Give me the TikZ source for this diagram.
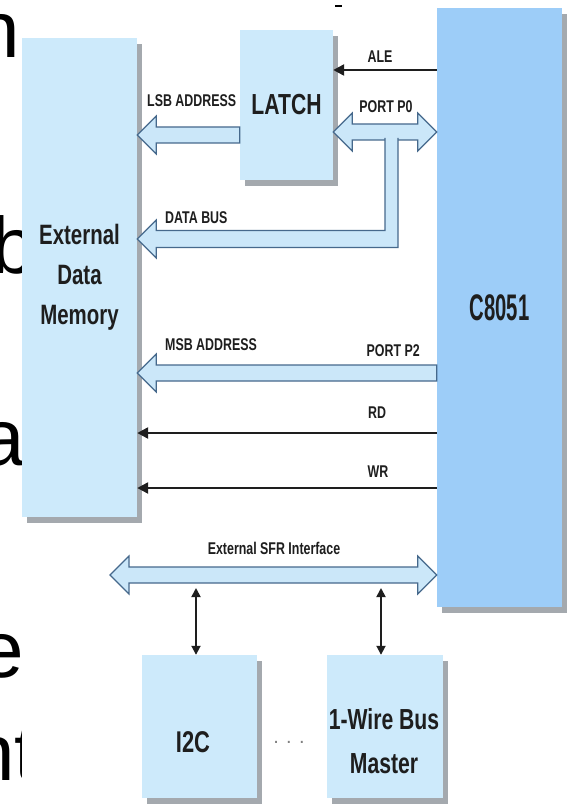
\documentclass[tikz,border=0pt]{standalone}
\usepackage{fontspec}
\usepackage{graphicx}
\setmainfont{Liberation Sans}
\newfontfamily\condfont{Liberation Sans}[FakeStretch=0.73]
\usetikzlibrary{arrows.meta,shadows,calc}

\definecolor{boxblue}{RGB}{205,234,251}
\definecolor{cpublue}{RGB}{157,205,248}
\definecolor{busfill}{RGB}{203,231,249}
\definecolor{busline}{RGB}{70,105,140}
\definecolor{shade}{RGB}{164,169,174}
\definecolor{ink}{RGB}{30,30,30}

\tikzset{
  block/.style={fill=boxblue, inner sep=0, text=ink, align=center,
    drop shadow={shadow xshift=5pt, shadow yshift=-6pt, fill=shade, opacity=1}},
  bus/.style={fill=busfill, draw=busline, line width=1.2pt},
  sig/.style={draw=ink, line width=2.4pt, -{Triangle[length=11pt,width=11pt]}},
  sigboth/.style={draw=ink, line width=1.8pt,
    {Triangle[length=9pt,width=9pt]}-{Triangle[length=9pt,width=9pt]}},
  lbl/.style={font=\condfont\bfseries\fontsize{17}{17}\selectfont, text=ink, inner sep=0},
  slide/.style={font=\fontsize{80}{80}\selectfont, inner sep=0, anchor=base west},
}

% hollow bus arrow, tail #1, tip #2 (pointing left)
\newcommand\busto[2]{%
  \draw[bus] let \p1=(#1), \p2=(#2) in
    (\x1,\y1+8pt) -- (\x2+19pt,\y1+8pt) -- (\x2+19pt,\y1+19pt) -- (\x2,\y1)
    -- (\x2+19pt,\y1-19pt) -- (\x2+19pt,\y1-8pt) -- (\x1,\y1-8pt) -- cycle;}
% hollow bus arrow with a tip at both ends, #1 left, #2 right
\newcommand\busboth[2]{%
  \draw[bus] let \p1=(#1), \p2=(#2) in
    (\x1,\y1) -- (\x1+19pt,\y1+19pt) -- (\x1+19pt,\y1+8pt) -- (\x2-19pt,\y1+8pt)
    -- (\x2-19pt,\y1+19pt) -- (\x2,\y1) -- (\x2-19pt,\y1-19pt) -- (\x2-19pt,\y1-8pt)
    -- (\x1+19pt,\y1-8pt) -- (\x1+19pt,\y1-19pt) -- cycle;}

\begin{document}
\begin{tikzpicture}[x=1pt,y=-1pt]
\useasboundingbox (0,0) rectangle (570,805);
\fill[white] (0,0) rectangle (570,805);

% slide text behind the figure
\node[slide] (w1) at (-25,58) {ne};
\node[slide] (w2) at (-9,273) {b};
\node[slide] (w3) at (-20,465) {a};
\node[slide] (w4) at (-21,677) {e};
\node[slide] (w5) at (-30,780) {nt};
\fill[white] (22,7) rectangle (570,805);
\fill[black] (335,5) rectangle (342,7.5);

% blocks
\node[block, minimum width=115pt, minimum height=479pt,
  font=\condfont\bfseries\fontsize{28}{40}\selectfont] (mem) at (79.5,277.5) {External\\Data\\Memory};
\node[block, minimum width=93pt, minimum height=150pt,
  font=\condfont\bfseries\fontsize{29}{29}\selectfont] (latch) at (286.5,105) {LATCH};
\node[block, fill=cpublue, minimum width=125pt, minimum height=599pt,
  font=\condfont\bfseries\fontsize{37}{37}\selectfont] (cpu) at (499.5,307.5) {\scalebox{0.75}[1]{C8051}};
\node[block, minimum width=115pt, minimum height=143pt] (i2c) at (199.5,726.5) {};
\node[block, minimum width=116pt, minimum height=143pt] (wire) at (385,726.5) {};
\node[font=\condfont\bfseries\fontsize{30}{30}\selectfont, text=ink] (i2ctext) at (193,742) {I2C};
\node[font=\condfont\bfseries\fontsize{29}{44}\selectfont, text=ink, align=center] (wiretext) at (384,741) {1-Wire Bus\\Master};
\node[font=\fontsize{20}{20}\selectfont, text=gray] (dots) at (289,742) {. . .};

% levels of the lines
\coordinate (ale) at (0,70);
\coordinate (lsb) at (0,135);
\coordinate (p0) at (0,132);
\coordinate (p0tap) at (391.5,138);
\coordinate (dbus) at (0,239);
\coordinate (msb) at (0,373);
\coordinate (rd) at (0,433);
\coordinate (wr) at (0,488);
\coordinate (sfr) at (110,575);
\coordinate (i2ctap) at (196,588);
\coordinate (wiretap) at (381,588);

% buses
\busto{lsb -| latch.west}{lsb -| mem.east}
\busboth{p0 -| latch.east}{p0 -| cpu.west}
\draw[bus] let \p1=(p0tap), \p2=(dbus -| mem.east) in
  (\x1-6.5pt,\y1) |- (\x2+19pt,\y2+8.5pt) -- (\x2+19pt,\y2+19pt) -- (\x2,\y2)
  -- (\x2+19pt,\y2-19pt) -- (\x2+19pt,\y2-8.5pt) -| (\x1+6.5pt,\y1);
\busto{msb -| cpu.west}{msb -| mem.east}
\busboth{sfr}{sfr -| cpu.west}

% control lines
\draw[sig] (ale -| cpu.west) -- (ale -| latch.east);
\draw[sig] (rd -| cpu.west) -- (rd -| mem.east);
\draw[sig] (wr -| cpu.west) -- (wr -| mem.east);
\draw[sigboth] (i2ctap) -- (i2ctap |- i2c.north);
\draw[sigboth] (wiretap) -- (wiretap |- wire.north);

% labels
\node[lbl, anchor=west] (lsblbl) at (147,101) {LSB ADDRESS};
\node[lbl] (alelbl) at (380,57) {ALE};
\node[lbl] (p0lbl) at (386,107) {PORT P0};
\node[lbl, anchor=west] (dbuslbl) at (165,218) {DATA BUS};
\node[lbl, anchor=west] (msblbl) at (165,345) {MSB ADDRESS};
\node[lbl, anchor=east] (p2lbl) at (420,351) {PORT P2};
\node[lbl] (rdlbl) at (377,413) {RD};
\node[lbl] (wrlbl) at (378,472) {WR};
\node[lbl] (sfrlbl) at (274,548) {External SFR Interface};
\end{tikzpicture}
\end{document}
